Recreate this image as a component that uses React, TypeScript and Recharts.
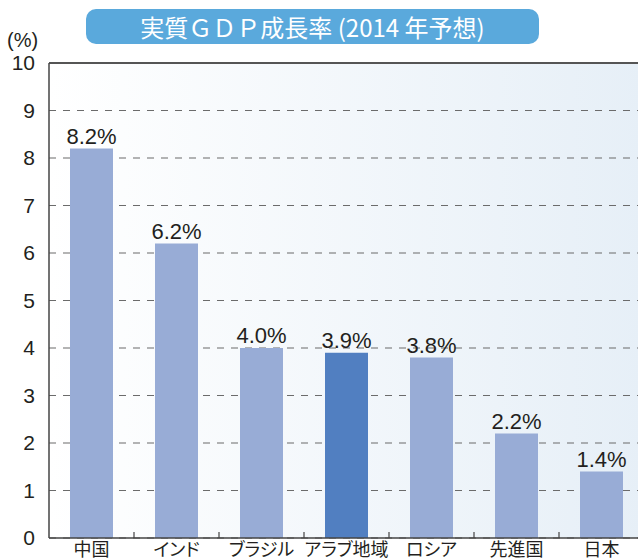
import React from "react";
import { BarChart, Bar, XAxis, YAxis, CartesianGrid, ReferenceLine, LabelList, Cell } from "recharts";

const regions = ["中国", "インド", "ブラジル", "アラブ地域", "ロシア", "先進国", "日本"];
const growth = [8.2, 6.2, 4.0, 3.9, 3.8, 2.2, 1.4];
const highlighted = ["アラブ地域"];
const yTicks = [0, 1, 2, 3, 4, 5, 6, 7, 8, 9, 10];

const data = regions.map((name, i) => ({ name, value: growth[i] }));

const CHART_W = 644;
const Y_AXIS_W = 49;
const BAND = (CHART_W - Y_AXIS_W) / regions.length;

const jpFont = '"Noto Sans CJK JP", "Noto Sans", sans-serif';
const numFont = '"Liberation Sans", Arial, sans-serif';

function CategoryTick(props: any) {
  const { x, y, payload } = props;
  return (
    <g>
      {/* boundary tick, pointing up into the plot */}
      <line x1={x + BAND / 2} x2={x + BAND / 2} y1={y} y2={y - 6} stroke="#444" strokeWidth={1.2} />
      <text
        x={x}
        y={y + 18}
        textAnchor="middle"
        fontSize={18}
        fill="#231f20"
        style={{ fontFamily: jpFont, fontFeatureSettings: '"palt"' }}
      >
        {payload.value}
      </text>
    </g>
  );
}

export default function App() {
  return (
    <div style={{ position: "fixed", left: 0, top: 0, width: 638, height: 560, overflow: "hidden", background: "#fff" }}>
      {/* title pill */}
      <div style={{
        position: "absolute", left: 86, top: 9, width: 453, height: 35, borderRadius: 10,
        background: "#5aa9dc", color: "#fff", fontFamily: jpFont, fontSize: 24,
        display: "flex", alignItems: "center", justifyContent: "center", lineHeight: 1, zIndex: 2
      }}>
        実質ＧＤＰ成長率 (2014 年予想)
      </div>
      <div style={{ position: "absolute", left: 7, top: 29, fontFamily: numFont, fontSize: 20, color: "#231f20", zIndex: 2 }}>
        (%)
      </div>

      <BarChart width={CHART_W} height={560} data={data} margin={{ top: 63, right: 0, bottom: 0, left: 0 }}>
        <defs>
          <linearGradient id="bg" x1="0" y1="0" x2="1" y2="0">
            <stop offset="0%" stopColor="#ffffff" />
            <stop offset="100%" stopColor="#e6eff7" />
          </linearGradient>
        </defs>
        <CartesianGrid vertical={false} fill="url(#bg)" stroke="#6b6b6b" strokeDasharray="7 7" strokeWidth={1.2} />
        <XAxis
          dataKey="name"
          height={22}
          interval={0}
          tickSize={0}
          tickMargin={0}
          tickLine={false}
          axisLine={{ stroke: "#444", strokeWidth: 1.5 }}
          tick={<CategoryTick />}
        />
        <YAxis
          width={Y_AXIS_W}
          domain={[0, 10]}
          ticks={yTicks}
          interval={0}
          tickSize={0}
          tickMargin={14}
          tickLine={false}
          axisLine={{ stroke: "#444", strokeWidth: 1.5 }}
          tick={{ fontSize: 21, fill: "#231f20", fontFamily: numFont }}
        />
        <ReferenceLine y={10} stroke="#555" strokeWidth={2} />
        <Bar dataKey="value" barSize={43} isAnimationActive={false}>
          {data.map((d) => (
            <Cell key={d.name} fill={highlighted.includes(d.name) ? "#517fc1" : "#98acd6"} />
          ))}
          <LabelList
            dataKey="value"
            position="top"
            offset={5}
            formatter={(v: any) => `${Number(v).toFixed(1)}%`}
            style={{ fontSize: 22, fill: "#231f20", fontFamily: numFont }}
          />
        </Bar>
      </BarChart>
    </div>
  );
}
